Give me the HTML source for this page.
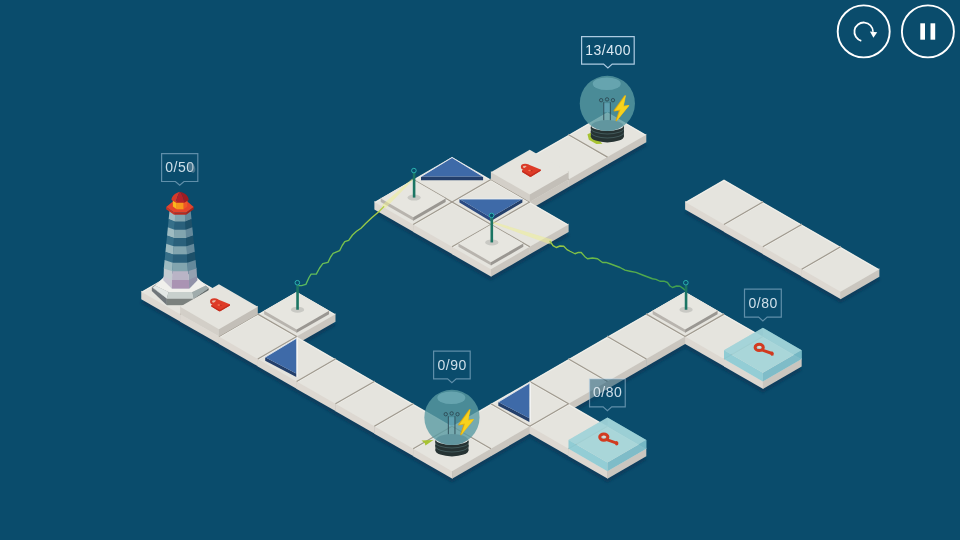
<!DOCTYPE html>
<html><head><meta charset="utf-8"><title>Game</title>
<style>
html,body{margin:0;padding:0;background:#0a4c6c;overflow:hidden;font-family:"Liberation Sans",sans-serif;}
svg{display:block;}
</style></head><body>
<svg width="960" height="540" viewBox="0 0 960 540" font-family="'Liberation Sans', sans-serif"><defs>
<linearGradient id="g1" gradientUnits="userSpaceOnUse" x1="298" y1="286" x2="384" y2="207"><stop offset="0" stop-color="#58b860"/><stop offset="0.6" stop-color="#7cc24a"/><stop offset="1" stop-color="#b5cf45"/></linearGradient>
<linearGradient id="g2" gradientUnits="userSpaceOnUse" x1="550" y1="241" x2="685" y2="290"><stop offset="0" stop-color="#a4cb45"/><stop offset="0.3" stop-color="#6dbb47"/><stop offset="1" stop-color="#3c9c50"/></linearGradient>
<filter id="sh" x="-5%" y="-5%" width="110%" height="110%"><feGaussianBlur stdDeviation="0.8"/></filter>
</defs><rect width="960" height="540" fill="#0a4c6c"/><g fill="#083e5d" filter="url(#sh)">
<polygon points="180.1,279.92 219.73,302.8 180.1,325.68 140.47,302.8"/>
<polygon points="218.95,302.35 258.58,325.23 218.95,348.11 179.32,325.23"/>
<polygon points="257.8,324.78 297.43,347.66 257.8,370.54 218.17,347.66"/>
<polygon points="296.65,302.35 336.28,325.23 296.65,348.11 257.02,325.23"/>
<polygon points="296.65,347.21 336.28,370.09 296.65,392.97 257.02,370.09"/>
<polygon points="335.5,369.64 375.13,392.52 335.5,415.4 295.87,392.52"/>
<polygon points="374.35,392.07 413.98,414.95 374.35,437.83 334.72,414.95"/>
<polygon points="413.2,414.5 452.83,437.38 413.2,460.26 373.57,437.38"/>
<polygon points="452.05,436.93 491.68,459.81 452.05,482.69 412.42,459.81"/>
<polygon points="490.9,414.5 530.53,437.38 490.9,460.26 451.27,437.38"/>
<polygon points="529.75,392.07 569.38,414.95 529.75,437.83 490.12,414.95"/>
<polygon points="568.6,369.64 608.23,392.52 568.6,415.4 528.97,392.52"/>
<polygon points="607.45,347.21 647.08,370.09 607.45,392.97 567.82,370.09"/>
<polygon points="646.3,324.78 685.93,347.66 646.3,370.54 606.67,347.66"/>
<polygon points="685.15,302.35 724.78,325.23 685.15,348.11 645.52,325.23"/>
<polygon points="724,324.78 763.63,347.66 724,370.54 684.37,347.66"/>
<polygon points="762.85,347.21 802.48,370.09 762.85,392.97 723.22,370.09"/>
<polygon points="568.6,414.5 608.23,437.38 568.6,460.26 528.97,437.38"/>
<polygon points="607.45,436.93 647.08,459.81 607.45,482.69 567.82,459.81"/>
<polygon points="413.2,190.2 452.83,213.08 413.2,235.96 373.57,213.08"/>
<polygon points="452.05,167.77 491.68,190.65 452.05,213.53 412.42,190.65"/>
<polygon points="452.05,212.63 491.68,235.51 452.05,258.39 412.42,235.51"/>
<polygon points="490.9,190.2 530.53,213.08 490.9,235.96 451.27,213.08"/>
<polygon points="490.9,235.06 530.53,257.94 490.9,280.82 451.27,257.94"/>
<polygon points="529.75,212.63 569.38,235.51 529.75,258.39 490.12,235.51"/>
<polygon points="529.75,167.77 569.38,190.65 529.75,213.53 490.12,190.65"/>
<polygon points="568.6,145.34 608.23,168.22 568.6,191.1 528.97,168.22"/>
<polygon points="607.45,122.91 647.08,145.79 607.45,168.67 567.82,145.79"/>
<polygon points="724,190.2 763.63,213.08 724,235.96 684.37,213.08"/>
<polygon points="762.85,212.63 802.48,235.51 762.85,258.39 723.22,235.51"/>
<polygon points="801.7,235.06 841.33,257.94 801.7,280.82 762.07,257.94"/>
<polygon points="840.55,257.49 880.18,280.37 840.55,303.25 800.92,280.37"/>
</g>
<polygon points="568.6,133.69 607.85,156.12 607.85,164.62 568.6,142.19" fill="#ddd8d1"/><polygon points="607.45,156.12 646.3,133.69 646.3,142.19 607.45,164.62" fill="#cac6bf"/><polygon points="607.45,112.26 646.3,134.69 607.45,157.12 568.6,134.69" fill="#e5e4de"/>
<polygon points="529.75,156.12 569,178.55 569,187.05 529.75,164.62" fill="#ddd8d1"/><polygon points="568.6,178.55 607.45,156.12 607.45,164.62 568.6,187.05" fill="#cac6bf"/><polygon points="568.6,134.69 607.45,157.12 568.6,179.55 529.75,157.12" fill="#e5e4de"/>
<polygon points="413.2,178.55 452.45,200.98 452.45,209.48 413.2,187.05" fill="#ddd8d1"/><polygon points="452.05,200.98 490.9,178.55 490.9,187.05 452.05,209.48" fill="#cac6bf"/><polygon points="452.05,157.12 490.9,179.55 452.05,201.98 413.2,179.55" fill="#e5e4de"/>
<polygon points="490.9,178.55 530.15,200.98 530.15,209.48 490.9,187.05" fill="#ddd8d1"/><polygon points="529.75,200.98 568.6,178.55 568.6,187.05 529.75,209.48" fill="#cac6bf"/><polygon points="529.75,157.12 568.6,179.55 529.75,201.98 490.9,179.55" fill="#e5e4de"/>
<polygon points="374.35,200.98 413.6,223.41 413.6,231.91 374.35,209.48" fill="#ddd8d1"/><polygon points="413.2,223.41 452.05,200.98 452.05,209.48 413.2,231.91" fill="#cac6bf"/><polygon points="413.2,179.55 452.05,201.98 413.2,224.41 374.35,201.98" fill="#e5e4de"/>
<polygon points="452.05,200.98 491.3,223.41 491.3,231.91 452.05,209.48" fill="#ddd8d1"/><polygon points="490.9,223.41 529.75,200.98 529.75,209.48 490.9,231.91" fill="#cac6bf"/><polygon points="490.9,179.55 529.75,201.98 490.9,224.41 452.05,201.98" fill="#e5e4de"/>
<polygon points="685.15,200.98 724.4,223.41 724.4,231.91 685.15,209.48" fill="#ddd8d1"/><polygon points="724,223.41 762.85,200.98 762.85,209.48 724,231.91" fill="#cac6bf"/><polygon points="724,179.55 762.85,201.98 724,224.41 685.15,201.98" fill="#e5e4de"/>
<polygon points="413.2,223.41 452.45,245.84 452.45,254.34 413.2,231.91" fill="#ddd8d1"/><polygon points="452.05,245.84 490.9,223.41 490.9,231.91 452.05,254.34" fill="#cac6bf"/><polygon points="452.05,201.98 490.9,224.41 452.05,246.84 413.2,224.41" fill="#e5e4de"/>
<polygon points="490.9,223.41 530.15,245.84 530.15,254.34 490.9,231.91" fill="#ddd8d1"/><polygon points="529.75,245.84 568.6,223.41 568.6,231.91 529.75,254.34" fill="#cac6bf"/><polygon points="529.75,201.98 568.6,224.41 529.75,246.84 490.9,224.41" fill="#e5e4de"/>
<polygon points="724,223.41 763.25,245.84 763.25,254.34 724,231.91" fill="#ddd8d1"/><polygon points="762.85,245.84 801.7,223.41 801.7,231.91 762.85,254.34" fill="#cac6bf"/><polygon points="762.85,201.98 801.7,224.41 762.85,246.84 724,224.41" fill="#e5e4de"/>
<polygon points="452.05,245.84 491.3,268.27 491.3,276.77 452.05,254.34" fill="#ddd8d1"/><polygon points="490.9,268.27 529.75,245.84 529.75,254.34 490.9,276.77" fill="#cac6bf"/><polygon points="490.9,224.41 529.75,246.84 490.9,269.27 452.05,246.84" fill="#e5e4de"/>
<polygon points="762.85,245.84 802.1,268.27 802.1,276.77 762.85,254.34" fill="#ddd8d1"/><polygon points="801.7,268.27 840.55,245.84 840.55,254.34 801.7,276.77" fill="#cac6bf"/><polygon points="801.7,224.41 840.55,246.84 801.7,269.27 762.85,246.84" fill="#e5e4de"/>
<polygon points="801.7,268.27 840.95,290.7 840.95,299.2 801.7,276.77" fill="#ddd8d1"/><polygon points="840.55,290.7 879.4,268.27 879.4,276.77 840.55,299.2" fill="#cac6bf"/><polygon points="840.55,246.84 879.4,269.27 840.55,291.7 801.7,269.27" fill="#e5e4de"/>
<polygon points="141.25,290.7 180.5,313.13 180.5,321.63 141.25,299.2" fill="#ddd8d1"/><polygon points="180.1,313.13 218.95,290.7 218.95,299.2 180.1,321.63" fill="#cac6bf"/><polygon points="180.1,269.27 218.95,291.7 180.1,314.13 141.25,291.7" fill="#e5e4de"/>
<polygon points="180.1,313.13 219.35,335.56 219.35,344.06 180.1,321.63" fill="#ddd8d1"/><polygon points="218.95,335.56 257.8,313.13 257.8,321.63 218.95,344.06" fill="#cac6bf"/><polygon points="218.95,291.7 257.8,314.13 218.95,336.56 180.1,314.13" fill="#e5e4de"/>
<polygon points="257.8,313.13 297.05,335.56 297.05,344.06 257.8,321.63" fill="#ddd8d1"/><polygon points="296.65,335.56 335.5,313.13 335.5,321.63 296.65,344.06" fill="#cac6bf"/><polygon points="296.65,291.7 335.5,314.13 296.65,336.56 257.8,314.13" fill="#e5e4de"/>
<polygon points="646.3,313.13 685.55,335.56 685.55,344.06 646.3,321.63" fill="#ddd8d1"/><polygon points="685.15,335.56 724,313.13 724,321.63 685.15,344.06" fill="#cac6bf"/><polygon points="685.15,291.7 724,314.13 685.15,336.56 646.3,314.13" fill="#e5e4de"/>
<polygon points="218.95,335.56 258.2,357.99 258.2,366.49 218.95,344.06" fill="#ddd8d1"/><polygon points="257.8,357.99 296.65,335.56 296.65,344.06 257.8,366.49" fill="#cac6bf"/><polygon points="257.8,314.13 296.65,336.56 257.8,358.99 218.95,336.56" fill="#e5e4de"/>
<polygon points="607.45,335.56 646.7,357.99 646.7,366.49 607.45,344.06" fill="#ddd8d1"/><polygon points="646.3,357.99 685.15,335.56 685.15,344.06 646.3,366.49" fill="#cac6bf"/><polygon points="646.3,314.13 685.15,336.56 646.3,358.99 607.45,336.56" fill="#e5e4de"/>
<polygon points="685.15,335.56 724.4,357.99 724.4,366.49 685.15,344.06" fill="#ddd8d1"/><polygon points="724,357.99 762.85,335.56 762.85,344.06 724,366.49" fill="#cac6bf"/><polygon points="724,314.13 762.85,336.56 724,358.99 685.15,336.56" fill="#e5e4de"/>
<polygon points="257.8,357.99 297.05,380.42 297.05,388.92 257.8,366.49" fill="#ddd8d1"/><polygon points="296.65,380.42 335.5,357.99 335.5,366.49 296.65,388.92" fill="#cac6bf"/><polygon points="296.65,336.56 335.5,358.99 296.65,381.42 257.8,358.99" fill="#e5e4de"/>
<polygon points="568.6,357.99 607.85,380.42 607.85,388.92 568.6,366.49" fill="#ddd8d1"/><polygon points="607.45,380.42 646.3,357.99 646.3,366.49 607.45,388.92" fill="#cac6bf"/><polygon points="607.45,336.56 646.3,358.99 607.45,381.42 568.6,358.99" fill="#e5e4de"/>
<polygon points="724,357.99 763.25,380.42 763.25,388.92 724,366.49" fill="#ddd8d1"/><polygon points="762.85,380.42 801.7,357.99 801.7,366.49 762.85,388.92" fill="#cac6bf"/><polygon points="762.85,336.56 801.7,358.99 762.85,381.42 724,358.99" fill="#e5e4de"/>
<polygon points="296.65,380.42 335.9,402.85 335.9,411.35 296.65,388.92" fill="#ddd8d1"/><polygon points="335.5,402.85 374.35,380.42 374.35,388.92 335.5,411.35" fill="#cac6bf"/><polygon points="335.5,358.99 374.35,381.42 335.5,403.85 296.65,381.42" fill="#e5e4de"/>
<polygon points="529.75,380.42 569,402.85 569,411.35 529.75,388.92" fill="#ddd8d1"/><polygon points="568.6,402.85 607.45,380.42 607.45,388.92 568.6,411.35" fill="#cac6bf"/><polygon points="568.6,358.99 607.45,381.42 568.6,403.85 529.75,381.42" fill="#e5e4de"/>
<polygon points="335.5,402.85 374.75,425.28 374.75,433.78 335.5,411.35" fill="#ddd8d1"/><polygon points="374.35,425.28 413.2,402.85 413.2,411.35 374.35,433.78" fill="#cac6bf"/><polygon points="374.35,381.42 413.2,403.85 374.35,426.28 335.5,403.85" fill="#e5e4de"/>
<polygon points="490.9,402.85 530.15,425.28 530.15,433.78 490.9,411.35" fill="#ddd8d1"/><polygon points="529.75,425.28 568.6,402.85 568.6,411.35 529.75,433.78" fill="#cac6bf"/><polygon points="529.75,381.42 568.6,403.85 529.75,426.28 490.9,403.85" fill="#e5e4de"/>
<polygon points="374.35,425.28 413.6,447.71 413.6,456.21 374.35,433.78" fill="#ddd8d1"/><polygon points="413.2,447.71 452.05,425.28 452.05,433.78 413.2,456.21" fill="#cac6bf"/><polygon points="413.2,403.85 452.05,426.28 413.2,448.71 374.35,426.28" fill="#e5e4de"/>
<polygon points="452.05,425.28 491.3,447.71 491.3,456.21 452.05,433.78" fill="#ddd8d1"/><polygon points="490.9,447.71 529.75,425.28 529.75,433.78 490.9,456.21" fill="#cac6bf"/><polygon points="490.9,403.85 529.75,426.28 490.9,448.71 452.05,426.28" fill="#e5e4de"/>
<polygon points="529.75,425.28 569,447.71 569,456.21 529.75,433.78" fill="#ddd8d1"/><polygon points="568.6,447.71 607.45,425.28 607.45,433.78 568.6,456.21" fill="#cac6bf"/><polygon points="568.6,403.85 607.45,426.28 568.6,448.71 529.75,426.28" fill="#e5e4de"/>
<polygon points="413.2,447.71 452.45,470.14 452.45,478.64 413.2,456.21" fill="#ddd8d1"/><polygon points="452.05,470.14 490.9,447.71 490.9,456.21 452.05,478.64" fill="#cac6bf"/><polygon points="452.05,426.28 490.9,448.71 452.05,471.14 413.2,448.71" fill="#e5e4de"/>
<polygon points="568.6,447.71 607.85,470.14 607.85,478.64 568.6,456.21" fill="#ddd8d1"/><polygon points="607.45,470.14 646.3,447.71 646.3,456.21 607.45,478.64" fill="#cac6bf"/><polygon points="607.45,426.28 646.3,448.71 607.45,471.14 568.6,448.71" fill="#e5e4de"/>
<g stroke="#f2f2ee" stroke-width="1" fill="none" stroke-opacity="0.8">
<polyline points="569.8,134.99 607.45,113.26 645.1,134.99"/>
<polyline points="530.95,157.42 568.6,135.69 606.25,157.42"/>
<polyline points="414.4,179.85 452.05,158.12 489.7,179.85"/>
<polyline points="492.1,179.85 529.75,158.12 567.4,179.85"/>
<polyline points="375.55,202.28 413.2,180.55 450.85,202.28"/>
<polyline points="453.25,202.28 490.9,180.55 528.55,202.28"/>
<polyline points="686.35,202.28 724,180.55 761.65,202.28"/>
<polyline points="414.4,224.71 452.05,202.98 489.7,224.71"/>
<polyline points="492.1,224.71 529.75,202.98 567.4,224.71"/>
<polyline points="725.2,224.71 762.85,202.98 800.5,224.71"/>
<polyline points="453.25,247.14 490.9,225.41 528.55,247.14"/>
<polyline points="764.05,247.14 801.7,225.41 839.35,247.14"/>
<polyline points="802.9,269.57 840.55,247.84 878.2,269.57"/>
<polyline points="142.45,292 180.1,270.27 217.75,292"/>
<polyline points="181.3,314.43 218.95,292.7 256.6,314.43"/>
<polyline points="259,314.43 296.65,292.7 334.3,314.43"/>
<polyline points="647.5,314.43 685.15,292.7 722.8,314.43"/>
<polyline points="220.15,336.86 257.8,315.13 295.45,336.86"/>
<polyline points="608.65,336.86 646.3,315.13 683.95,336.86"/>
<polyline points="686.35,336.86 724,315.13 761.65,336.86"/>
<polyline points="259,359.29 296.65,337.56 334.3,359.29"/>
<polyline points="569.8,359.29 607.45,337.56 645.1,359.29"/>
<polyline points="725.2,359.29 762.85,337.56 800.5,359.29"/>
<polyline points="297.85,381.72 335.5,359.99 373.15,381.72"/>
<polyline points="530.95,381.72 568.6,359.99 606.25,381.72"/>
<polyline points="336.7,404.15 374.35,382.42 412,404.15"/>
<polyline points="492.1,404.15 529.75,382.42 567.4,404.15"/>
<polyline points="375.55,426.58 413.2,404.85 450.85,426.58"/>
<polyline points="453.25,426.58 490.9,404.85 528.55,426.58"/>
<polyline points="530.95,426.58 568.6,404.85 606.25,426.58"/>
<polyline points="414.4,449.01 452.05,427.28 489.7,449.01"/>
<polyline points="569.8,449.01 607.45,427.28 645.1,449.01"/>
</g>
<g stroke="#a09a8f" stroke-width="1.2" stroke-linecap="butt">
<line x1="568.6" y1="134.69" x2="607.45" y2="157.12"/>
<line x1="529.75" y1="157.12" x2="568.6" y2="179.55"/>
<line x1="452.05" y1="201.98" x2="490.9" y2="179.55"/>
<line x1="413.2" y1="179.55" x2="452.05" y2="201.98"/>
<line x1="490.9" y1="179.55" x2="529.75" y2="201.98"/>
<line x1="413.2" y1="224.41" x2="452.05" y2="201.98"/>
<line x1="490.9" y1="224.41" x2="529.75" y2="201.98"/>
<line x1="452.05" y1="201.98" x2="490.9" y2="224.41"/>
<line x1="724" y1="224.41" x2="762.85" y2="201.98"/>
<line x1="452.05" y1="246.84" x2="490.9" y2="224.41"/>
<line x1="490.9" y1="224.41" x2="529.75" y2="246.84"/>
<line x1="762.85" y1="246.84" x2="801.7" y2="224.41"/>
<line x1="801.7" y1="269.27" x2="840.55" y2="246.84"/>
<line x1="180.1" y1="314.13" x2="218.95" y2="291.7"/>
<line x1="218.95" y1="336.56" x2="257.8" y2="314.13"/>
<line x1="257.8" y1="314.13" x2="296.65" y2="336.56"/>
<line x1="685.15" y1="336.56" x2="724" y2="314.13"/>
<line x1="646.3" y1="314.13" x2="685.15" y2="336.56"/>
<line x1="257.8" y1="358.99" x2="296.65" y2="336.56"/>
<line x1="607.45" y1="336.56" x2="646.3" y2="358.99"/>
<line x1="724" y1="358.99" x2="762.85" y2="336.56"/>
<line x1="296.65" y1="381.42" x2="335.5" y2="358.99"/>
<line x1="568.6" y1="358.99" x2="607.45" y2="381.42"/>
<line x1="335.5" y1="403.85" x2="374.35" y2="381.42"/>
<line x1="529.75" y1="381.42" x2="568.6" y2="403.85"/>
<line x1="374.35" y1="426.28" x2="413.2" y2="403.85"/>
<line x1="529.75" y1="426.28" x2="568.6" y2="403.85"/>
<line x1="490.9" y1="403.85" x2="529.75" y2="426.28"/>
<line x1="413.2" y1="448.71" x2="452.05" y2="426.28"/>
<line x1="452.05" y1="426.28" x2="490.9" y2="448.71"/>
<line x1="568.6" y1="448.71" x2="607.45" y2="426.28"/>
</g>
<polygon points="587.45,134.29 591.45,132.49 602.45,143.69 596.45,144.09 588.85,139.69" fill="#a7c332"/><ellipse cx="607.35" cy="136.19" rx="16.5" ry="6.2" fill="#263333"/><rect x="590.85" y="126.59" width="33" height="9.6" fill="#263333"/><ellipse cx="607.35" cy="132.29" rx="16.5" ry="6.2" fill="#42595a"/><ellipse cx="607.35" cy="131.29" rx="16.5" ry="6.2" fill="#263333"/><ellipse cx="607.35" cy="128.39" rx="16.5" ry="6.2" fill="#42595a"/><ellipse cx="607.35" cy="127.39" rx="16.5" ry="6.2" fill="#263333"/><ellipse cx="607.35" cy="125.39" rx="16.2" ry="5.6" fill="#dfe3e1"/><circle cx="607.35" cy="103.39" r="27.6" fill="#5a9ba3" fill-opacity="0.8"/><clipPath id="bc1"><circle cx="607.35" cy="103.39" r="27.6"/></clipPath><g clip-path="url(#bc1)"><ellipse cx="607.35" cy="125.99" rx="16" ry="6" fill="#3c7480" fill-opacity="0.35"/></g><ellipse cx="606.75" cy="83.79" rx="14" ry="6.3" fill="#7ab6bf" fill-opacity="0.6"/><rect x="603.75" y="103.19" width="6.6" height="9" fill="#7fc0d6" fill-opacity="0.4"/><g stroke="#2c4a55" stroke-width="0.9" fill="none"><path d="M603.75,102.19 v18 M610.35,102.19 v18"/><circle cx="601.15" cy="100.19" r="1.7"/><circle cx="607.05" cy="99.39" r="1.7"/><circle cx="612.95" cy="100.19" r="1.7"/></g><path transform="translate(620.85 108.29)" d="M4,-12.4 L-6.6,2.4 L-1,1.6 L-4.6,12.2 L7.4,-2.6 L1.8,-1.6 Z" fill="#d8a410" stroke="#d8a410" stroke-width="1.4" stroke-linejoin="round"/><path transform="translate(621.55 107.99)" d="M4,-12.4 L-6.6,2.4 L-1,1.6 L-4.6,12.2 L7.4,-2.6 L1.8,-1.6 Z" fill="#f8d21c" stroke="#f8d21c" stroke-width="0.5" stroke-linejoin="round"/>
<polygon points="421,176.55 483.1,176.55 483.1,180.15 421,180.15" fill="#233f6b"/><polygon points="452.05,157.52 483.1,176.55 421,176.55" fill="#3e6aa8"/><polyline points="421,176.55 452.05,157.52 483.1,176.55" fill="none" stroke="#e9edf2" stroke-width="0.9"/>
<polygon points="490.9,171.15 530.15,193.58 530.15,201.98 490.9,179.55" fill="#d3cfc8"/><polygon points="529.75,193.58 568.6,171.15 568.6,179.55 529.75,201.98" fill="#c3bfb8"/><polygon points="529.75,149.72 568.6,172.15 529.75,194.58 490.9,172.15" fill="#e5e4de"/>
<g transform="translate(529.75 171.75)"><ellipse cx="-4.6" cy="-4.9" rx="3.3" ry="2.2" fill="#e8b9a6" stroke="#d93a28" stroke-width="2"/><path d="M-1.4,-7.2 L10.9,-2.2 L11,-0.9 L1.2,4.9 L0.2,4.9 L-7.6,0.2 L-7.7,-1.2 Z" fill="#de3b27"/><path d="M-7.7,-1.2 L-7.6,0.2 L0.2,4.9 L1.2,4.9 L11,-0.9 L10.9,-2.2 L0.8,3.6 Z" fill="#c32c1d"/><ellipse cx="-0.2" cy="-1.3" rx="1.3" ry="0.8" fill="#f07f5c"/><ellipse cx="1.9" cy="-1.1" rx="0.9" ry="0.6" fill="#b8301c"/></g>
<polygon points="380.76,197.58 413.6,216.31 413.6,220.71 380.76,201.98" fill="#b8b4ae"/><polygon points="413.2,216.31 445.64,197.58 445.64,201.98 413.2,220.71" fill="#9a9792"/><polygon points="413.2,179.85 445.64,198.58 413.2,217.31 380.76,198.58" fill="#e7e6e0"/>
<polygon points="459.45,198.98 490.6,217.61 490.6,221.21 459.45,202.58" fill="#2a4a82"/><polygon points="490.6,217.61 522.35,198.98 522.35,202.58 490.6,221.21" fill="#233f6b"/><polygon points="459.45,198.98 522.35,198.98 490.6,217.61" fill="#3e6aa8"/><polyline points="459.45,198.98 522.35,198.98" fill="none" stroke="#e9edf2" stroke-width="0.9"/>
<polygon points="458.46,242.44 491.3,261.17 491.3,265.57 458.46,246.84" fill="#b8b4ae"/><polygon points="490.9,261.17 523.34,242.44 523.34,246.84 490.9,265.57" fill="#9a9792"/><polygon points="490.9,224.71 523.34,243.44 490.9,262.17 458.46,243.44" fill="#e7e6e0"/>
<g transform="translate(180.1 291.7)"><polygon points="-28.3,-4.5 -13.2,6.9 -13.2,13.5 -28.3,-0.8" fill="#70767a"/><polygon points="-13.2,6.9 13.6,6.9 13.6,13.5 -13.2,13.5" fill="#7b817e"/><polygon points="13.6,6.9 28.6,-3.6 28.6,3 13.6,13.5" fill="#636b6b"/><polygon points="-28.3,-4.5 -15,-14 15,-14 28.6,-3.6 13.6,6.9 -13.2,6.9" fill="#8d9393"/><polygon points="-25,-6.2 -11.6,0.3 -13.2,6.9 -27.3,-4.1" fill="#e4e8e6"/><polygon points="-11.6,0.3 12.3,0.3 13.6,6.7 -13.2,6.9" fill="#c8d0cd"/><polygon points="12.3,0.3 25.6,-6.2 28.2,-3.4 13.6,6.7" fill="#a0acac"/><polygon points="-25,-6.2 -14.4,-16.4 14.6,-16.4 25.6,-6.2 12.3,0.3 -11.6,0.3" fill="#f0f0ec"/><polygon points="-16.2,-24 -7.9,-21.4 -8.2,-3.3 -16.6,-11.5" fill="#c3cbd0"/><polygon points="-7.9,-21.4 8.3,-21.4 9.2,-3.3 -8.2,-3.3" fill="#b9b4c6"/><polygon points="8.3,-21.4 16.4,-24 17.2,-11.5 9.2,-3.3" fill="#94a1b1"/><polygon points="-16.4,-15.4 -8.1,-11.6 -8.2,-3.3 -16.6,-11.5" fill="#c9c6d2"/><polygon points="-8.1,-11.6 8.8,-11.6 9.2,-3.3 -8.2,-3.3" fill="#aa93b3"/><polygon points="8.8,-11.6 17,-15.8 17.2,-11.5 9.2,-3.3" fill="#9192a9"/><polygon points="-10.6,-80.9 -4.7,-78.3 -5.13,-69.79 -11.44,-72.39" fill="#9ebbc1"/><polygon points="-5,-78.3 5,-78.3 5.43,-69.79 -5.43,-69.79" fill="#82a5af"/><polygon points="4.7,-78.3 10.6,-80.9 11.44,-72.39 5.13,-69.79" fill="#64899b"/><polygon points="-11.41,-72.69 -5.11,-70.09 -5.54,-61.57 -12.26,-64.17" fill="#366f89"/><polygon points="-5.41,-70.09 5.41,-70.09 5.84,-61.57 -5.84,-61.57" fill="#2a607b"/><polygon points="5.11,-70.09 11.41,-72.69 12.26,-64.17 5.54,-61.57" fill="#1d5069"/><polygon points="-12.23,-64.47 -5.53,-61.87 -5.96,-53.36 -13.07,-55.96" fill="#9ebbc1"/><polygon points="-5.83,-61.87 5.83,-61.87 6.26,-53.36 -6.26,-53.36" fill="#82a5af"/><polygon points="5.53,-61.87 12.23,-64.47 13.07,-55.96 5.96,-53.36" fill="#64899b"/><polygon points="-13.04,-56.26 -5.94,-53.66 -6.37,-45.14 -13.89,-47.74" fill="#366f89"/><polygon points="-6.24,-53.66 6.24,-53.66 6.67,-45.14 -6.67,-45.14" fill="#2a607b"/><polygon points="5.94,-53.66 13.04,-56.26 13.89,-47.74 6.37,-45.14" fill="#1d5069"/><polygon points="-13.86,-48.04 -6.36,-45.44 -6.79,-36.93 -14.7,-39.53" fill="#9ebbc1"/><polygon points="-6.66,-45.44 6.66,-45.44 7.09,-36.93 -7.09,-36.93" fill="#82a5af"/><polygon points="6.36,-45.44 13.86,-48.04 14.7,-39.53 6.79,-36.93" fill="#64899b"/><polygon points="-14.67,-39.83 -6.77,-37.23 -7.2,-28.71 -15.52,-31.31" fill="#366f89"/><polygon points="-7.07,-37.23 7.07,-37.23 7.5,-28.71 -7.5,-28.71" fill="#2a607b"/><polygon points="6.77,-37.23 14.67,-39.83 15.52,-31.31 7.2,-28.71" fill="#1d5069"/><polygon points="-15.49,-31.61 -7.19,-29.01 -7.62,-20.5 -16.33,-23.1" fill="#9ebbc1"/><polygon points="-7.49,-29.01 7.49,-29.01 7.92,-20.5 -7.92,-20.5" fill="#82a5af"/><polygon points="7.19,-29.01 15.49,-31.61 16.33,-23.1 7.62,-20.5" fill="#64899b"/><polygon points="-13.9,-84.7 -6,-79.2 -6,-77 -13.9,-82.5" fill="#cc3323"/><polygon points="-6,-79.2 6,-79.2 6,-77 -6,-77" fill="#b9281d"/><polygon points="6,-79.2 13.6,-84.7 13.6,-82.5 6,-77" fill="#a3221a"/><polygon points="-13.9,-84.7 -7,-90.4 7,-90.4 13.6,-84.7 6,-79.2 -6,-79.2" fill="#e4442c"/><polygon points="-7.2,-92.4 -3.4,-90.4 -3.4,-82.4 -7.2,-85.2" fill="#f9b71e"/><polygon points="-3.4,-90.4 3.6,-90.4 3.6,-82.4 -3.4,-82.4" fill="#f7961c"/><polygon points="3.6,-90.4 7.2,-92.4 7.2,-85.2 3.6,-82.4" fill="#ee5628"/><path d="M0,-100 C-4.6,-99 -8.6,-95.4 -8.6,-91.8 L-4,-88.9 C-3.6,-94 -1.6,-98 0,-100 Z" fill="#d63a2a"/><path d="M0,-100 C-1.6,-98 -3.6,-94 -4,-88.9 L4.2,-88.9 C3.8,-94 1.6,-98 0,-100 Z" fill="#b3212a"/><path d="M0,-100 C1.6,-98 3.8,-94 4.2,-88.9 L8.6,-91.8 C8.6,-95.4 4.6,-99 0,-100 Z" fill="#9e1c22"/></g>
<polygon points="180.1,305.73 219.35,328.16 219.35,336.56 180.1,314.13" fill="#d3cfc8"/><polygon points="218.95,328.16 257.8,305.73 257.8,314.13 218.95,336.56" fill="#c3bfb8"/><polygon points="218.95,284.3 257.8,306.73 218.95,329.16 180.1,306.73" fill="#e5e4de"/>
<g transform="translate(218.95 306.33)"><ellipse cx="-4.6" cy="-4.9" rx="3.3" ry="2.2" fill="#e8b9a6" stroke="#d93a28" stroke-width="2"/><path d="M-1.4,-7.2 L10.9,-2.2 L11,-0.9 L1.2,4.9 L0.2,4.9 L-7.6,0.2 L-7.7,-1.2 Z" fill="#de3b27"/><path d="M-7.7,-1.2 L-7.6,0.2 L0.2,4.9 L1.2,4.9 L11,-0.9 L10.9,-2.2 L0.8,3.6 Z" fill="#c32c1d"/><ellipse cx="-0.2" cy="-1.3" rx="1.3" ry="0.8" fill="#f07f5c"/><ellipse cx="1.9" cy="-1.1" rx="0.9" ry="0.6" fill="#b8301c"/></g>
<polygon points="264.21,309.73 297.05,328.46 297.05,332.86 264.21,314.13" fill="#b8b4ae"/><polygon points="296.65,328.46 329.09,309.73 329.09,314.13 296.65,332.86" fill="#9a9792"/><polygon points="296.65,292 329.09,310.73 296.65,329.46 264.21,310.73" fill="#e7e6e0"/>
<polygon points="652.71,309.73 685.55,328.46 685.55,332.86 652.71,314.13" fill="#b8b4ae"/><polygon points="685.15,328.46 717.59,309.73 717.59,314.13 685.15,332.86" fill="#9a9792"/><polygon points="685.15,292 717.59,310.73 685.15,329.46 652.71,310.73" fill="#e7e6e0"/>
<polygon points="297.85,336.96 297.85,378.02 296.25,338.46" fill="#f4f4f2"/><polygon points="296.25,338.46 297.75,338.46 297.75,377.02 296.25,377.02" fill="#f4f4f2"/><polygon points="265.2,357.19 296.25,373.42 296.25,377.02 265.2,360.79" fill="#233f6b"/><polygon points="296.25,338.46 296.25,373.42 265.2,357.19" fill="#3e6aa8"/><polyline points="265.2,357.19 296.25,338.46" fill="none" stroke="#dfe6ef" stroke-width="0.8"/>
<polygon points="724,350.29 762.85,327.86 762.85,336.56 724,358.99" fill="#7fc4d2" fill-opacity="0.4"/>
<polygon points="762.85,327.86 801.7,350.29 801.7,358.99 762.85,336.56" fill="#7fc4d2" fill-opacity="0.7"/>
<polygon points="724,350.29 762.85,372.72 762.85,381.42 724,358.99" fill="#8ccbd4" fill-opacity="0.92"/>
<polygon points="762.85,372.72 801.7,350.29 801.7,358.99 762.85,381.42" fill="#76b8c5" fill-opacity="0.92"/>
<polygon points="762.85,327.86 801.7,350.29 762.85,372.72 724,350.29" fill="#a2d4d8" fill-opacity="0.9"/>
<g transform="translate(762.85 358.99)"><path d="M-1.2,-10.6 L8.2,-7.4 L9.6,-7.6 L11,-6 L10.6,-3.6 L8.6,-3.2 L7.4,-4.6 L-2.6,-8.2 Z" fill="#d03a1f"/><ellipse cx="-3.65" cy="-11.6" rx="4.1" ry="3.1" fill="none" stroke="#d33b20" stroke-width="3"/><ellipse cx="-3.5" cy="-11.9" rx="1.5" ry="1.0" fill="#efd9cd"/></g>
<polygon points="530.95,381.82 530.95,422.88 529.35,383.32" fill="#f4f4f2"/><polygon points="529.35,383.32 530.85,383.32 530.85,421.88 529.35,421.88" fill="#f4f4f2"/><polygon points="498.3,402.05 529.35,418.28 529.35,421.88 498.3,405.65" fill="#233f6b"/><polygon points="529.35,383.32 529.35,418.28 498.3,402.05" fill="#3e6aa8"/><polyline points="498.3,402.05 529.35,383.32" fill="none" stroke="#dfe6ef" stroke-width="0.8"/>
<polygon points="421.45,440.51 433.45,439.91 425.45,445.51 424.65,443.11" fill="#a7c332"/><ellipse cx="451.95" cy="450.21" rx="16.5" ry="6.2" fill="#263333"/><rect x="435.45" y="440.61" width="33" height="9.6" fill="#263333"/><ellipse cx="451.95" cy="446.31" rx="16.5" ry="6.2" fill="#42595a"/><ellipse cx="451.95" cy="445.31" rx="16.5" ry="6.2" fill="#263333"/><ellipse cx="451.95" cy="442.41" rx="16.5" ry="6.2" fill="#42595a"/><ellipse cx="451.95" cy="441.41" rx="16.5" ry="6.2" fill="#263333"/><ellipse cx="451.95" cy="439.41" rx="16.2" ry="5.6" fill="#dfe3e1"/><circle cx="451.95" cy="417.41" r="27.6" fill="#5a9ba3" fill-opacity="0.8"/><clipPath id="bc2"><circle cx="451.95" cy="417.41" r="27.6"/></clipPath><g clip-path="url(#bc2)"><ellipse cx="451.95" cy="440.01" rx="16" ry="6" fill="#3c7480" fill-opacity="0.35"/></g><ellipse cx="451.35" cy="397.81" rx="14" ry="6.3" fill="#7ab6bf" fill-opacity="0.6"/><rect x="448.35" y="417.21" width="6.6" height="9" fill="#7fc0d6" fill-opacity="0.4"/><g stroke="#2c4a55" stroke-width="0.9" fill="none"><path d="M448.35,416.21 v18 M454.95,416.21 v18"/><circle cx="445.75" cy="414.21" r="1.7"/><circle cx="451.65" cy="413.41" r="1.7"/><circle cx="457.55" cy="414.21" r="1.7"/></g><path transform="translate(465.45 422.31)" d="M4,-12.4 L-6.6,2.4 L-1,1.6 L-4.6,12.2 L7.4,-2.6 L1.8,-1.6 Z" fill="#d8a410" stroke="#d8a410" stroke-width="1.4" stroke-linejoin="round"/><path transform="translate(466.15 422.01)" d="M4,-12.4 L-6.6,2.4 L-1,1.6 L-4.6,12.2 L7.4,-2.6 L1.8,-1.6 Z" fill="#f8d21c" stroke="#f8d21c" stroke-width="0.5" stroke-linejoin="round"/>
<polygon points="568.6,440.01 607.45,417.58 607.45,426.28 568.6,448.71" fill="#7fc4d2" fill-opacity="0.4"/>
<polygon points="607.45,417.58 646.3,440.01 646.3,448.71 607.45,426.28" fill="#7fc4d2" fill-opacity="0.7"/>
<polygon points="568.6,440.01 607.45,462.44 607.45,471.14 568.6,448.71" fill="#8ccbd4" fill-opacity="0.92"/>
<polygon points="607.45,462.44 646.3,440.01 646.3,448.71 607.45,471.14" fill="#76b8c5" fill-opacity="0.92"/>
<polygon points="607.45,417.58 646.3,440.01 607.45,462.44 568.6,440.01" fill="#a2d4d8" fill-opacity="0.9"/>
<g transform="translate(607.45 448.71)"><path d="M-1.2,-10.6 L8.2,-7.4 L9.6,-7.6 L11,-6 L10.6,-3.6 L8.6,-3.2 L7.4,-4.6 L-2.6,-8.2 Z" fill="#d03a1f"/><ellipse cx="-3.65" cy="-11.6" rx="4.1" ry="3.1" fill="none" stroke="#d33b20" stroke-width="3"/><ellipse cx="-3.5" cy="-11.9" rx="1.5" ry="1.0" fill="#efd9cd"/></g>
<!--OBJ--><polygon points="413.4,179.4 412.2,178.4 381.6,205.4 385.2,208.6" fill="#f0f08e" fill-opacity="0.5"/><path d="M298.1,285.7 L301.5,285.6 L305.9,284.4 L309,277.5 L311.1,274.1 L316.3,274.1 L319.6,268 L322.8,263.7 L328,262.4 L330.6,257 L333.1,253.3 L339.6,250.7 L342.2,245.5 L344.8,241.7 L348.7,240.4 L352.5,235 L356.5,231.3 L361,228.2 L365.6,223.5 L372,217.6 L378.5,211.9 L383.7,206.7" fill="none" stroke="url(#g1)" stroke-width="1.35" stroke-linejoin="round" stroke-linecap="round"/><polygon points="492.6,221.6 552,239.4 550.4,244.6 492.8,223.4" fill="#f0f08e" fill-opacity="0.5"/><path d="M550,241.25 L553,245.6 L556.25,247.5 L560,246 L563.75,246.25 L567,249.6 L570,251.25 L575,253.75 L578.4,252.4 L581.25,252.5 L584.6,256.4 L587.5,258.75 L592.5,258 L597.5,258.75 L602.5,262.5 L606,262.4 L610,263.75 L620,267.5 L625,270.2 L630,271.25 L636,272.4 L642.5,275 L652.5,278.75 L656,279.4 L660,281.25 L664,281.2 L667.5,282.5 L670,286 L672.5,287.5 L676.5,286 L680,286.25 L683,288.4 L685,290" fill="none" stroke="url(#g2)" stroke-width="1.35" stroke-linejoin="round" stroke-linecap="round"/><ellipse cx="414.1" cy="197.58" rx="6.6" ry="3" fill="#c9c9c4"/><rect x="412.8" y="172.98" width="2.6" height="24.6" fill="#1b7563"/><circle cx="413.9" cy="170.58" r="2.3" fill="#0a4c6c" stroke="#2bb3b0" stroke-width="1"/><ellipse cx="491.8" cy="242.44" rx="6.6" ry="3" fill="#c9c9c4"/><rect x="490.5" y="217.84" width="2.6" height="24.6" fill="#1b7563"/><circle cx="491.6" cy="215.44" r="2.3" fill="#0a4c6c" stroke="#2bb3b0" stroke-width="1"/><ellipse cx="297.55" cy="309.73" rx="6.6" ry="3" fill="#c9c9c4"/><rect x="296.25" y="285.13" width="2.6" height="24.6" fill="#1b7563"/><circle cx="297.35" cy="282.73" r="2.3" fill="#0a4c6c" stroke="#2bb3b0" stroke-width="1"/><ellipse cx="686.05" cy="309.73" rx="6.6" ry="3" fill="#c9c9c4"/><rect x="684.75" y="285.13" width="2.6" height="24.6" fill="#1b7563"/><circle cx="685.85" cy="282.73" r="2.3" fill="#0a4c6c" stroke="#2bb3b0" stroke-width="1"/><path d="M161.6,153.7 H197.8 V181.5 H184 L179.7,185.3 L175.4,181.5 H161.6 Z" fill="#0a4c6c" fill-opacity="0.5" stroke="#b6d2e8" stroke-opacity="0.5" stroke-width="1.2"/><g opacity="0.9"><text x="179.95" y="172.2" text-anchor="middle" font-size="14" letter-spacing="0.5" fill="#e3eff7">0/50</text></g><ellipse cx="191.6" cy="167.4" rx="3.2" ry="5.6" fill="#8fa3b2" fill-opacity="0.45" transform="rotate(-25 191.6 167.4)"/><path d="M581.6,36.7 H634.2 V64.1 H612.2 L607.9,67.9 L603.6,64.1 H581.6 Z" fill="#0a4c6c" fill-opacity="0.5" stroke="#b6d2e8" stroke-opacity="0.95" stroke-width="1.2"/><g opacity="0.97"><text x="608.15" y="55.2" text-anchor="middle" font-size="14" letter-spacing="0.5" fill="#e3eff7">13/400</text></g><path d="M433.6,351.2 H470.2 V378.8 H456.2 L451.9,382.6 L447.6,378.8 H433.6 Z" fill="#0a4c6c" fill-opacity="0.5" stroke="#b6d2e8" stroke-opacity="0.5" stroke-width="1.2"/><g opacity="0.9"><text x="452.15" y="369.7" text-anchor="middle" font-size="14" letter-spacing="0.5" fill="#e3eff7">0/90</text></g><path d="M589.55,378.9 H625.25 V406.9 H611.7 L607.4,410.7 L603.1,406.9 H589.55 Z" fill="#0a4c6c" fill-opacity="0.5" stroke="#b6d2e8" stroke-opacity="0.5" stroke-width="1.2"/><g opacity="0.9"><text x="607.65" y="397.4" text-anchor="middle" font-size="14" letter-spacing="0.5" fill="#e3eff7">0/80</text></g><path d="M744.5,289.2 H781.3 V317.1 H767.2 L762.9,320.9 L758.6,317.1 H744.5 Z" fill="#0a4c6c" fill-opacity="0.5" stroke="#b6d2e8" stroke-opacity="0.5" stroke-width="1.2"/><g opacity="0.9"><text x="763.15" y="307.7" text-anchor="middle" font-size="14" letter-spacing="0.5" fill="#e3eff7">0/80</text></g><circle cx="863.7" cy="31.4" r="26" fill="none" stroke="#fff" stroke-width="1.9"/><circle cx="927.9" cy="31.4" r="26" fill="none" stroke="#fff" stroke-width="1.9"/><path d="M861.29,40.78 A9.3,9.3 0 1 1 873,31.8" fill="none" stroke="#fff" stroke-width="1.8"/><polygon points="869.9,31.4 877.2,32.2 873.4,37.8" fill="#fff"/><rect x="920.3" y="23.3" width="4.7" height="16.4" fill="#fff"/><rect x="930.5" y="23.3" width="4.7" height="16.4" fill="#fff"/></svg>
</body></html>
